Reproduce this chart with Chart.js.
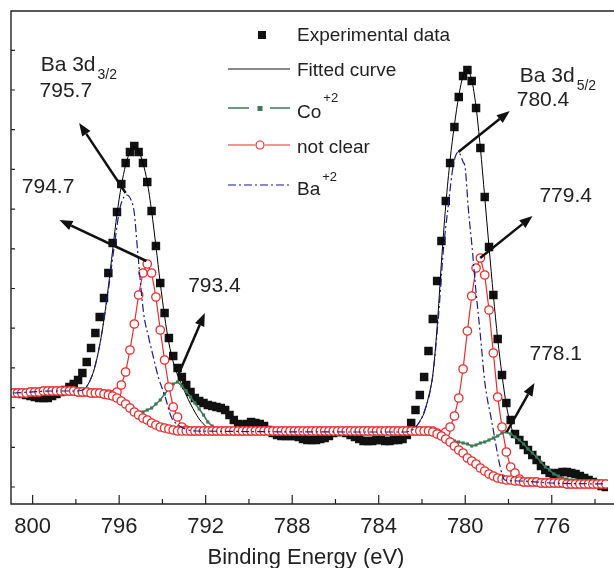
<!DOCTYPE html>
<html lang="en">
<head>
<meta charset="UTF-8">
<title>Ba 3d XPS spectrum</title>
<script src="https://cdn.jsdelivr.net/npm/chart.js"></script>
<style>
  body { margin: 0; background: #fff; }
  #wrap { width: 614px; height: 568px; }
</style>
</head>
<body>
<div id="wrap"><canvas id="xps" width="614" height="568"></canvas></div>
<script>
// binding energy grid of the scan (eV), 0.2 eV step
const energy = [
  800.9, 800.7, 800.5, 800.3, 800.1, 799.9, 799.7, 799.5, 799.3, 799.1,
  798.9, 798.7, 798.5, 798.3, 798.1, 797.9, 797.7, 797.5, 797.3, 797.1,
  796.9, 796.7, 796.5, 796.3, 796.1, 795.9, 795.7, 795.5, 795.3, 795.1,
  794.9, 794.7, 794.5, 794.3, 794.1, 793.9, 793.7, 793.5, 793.3, 793.1,
  792.9, 792.7, 792.5, 792.3, 792.1, 791.9, 791.7, 791.5, 791.3, 791.1,
  790.9, 790.7, 790.5, 790.3, 790.1, 789.9, 789.7, 789.5, 789.3, 789.1,
  788.9, 788.7, 788.5, 788.3, 788.1, 787.9, 787.7, 787.5, 787.3, 787.1,
  786.9, 786.7, 786.5, 786.3, 786.1, 785.9, 785.7, 785.5, 785.3, 785.1,
  784.9, 784.7, 784.5, 784.3, 784.1, 783.9, 783.7, 783.5, 783.3, 783.1,
  782.9, 782.7, 782.5, 782.3, 782.1, 781.9, 781.7, 781.5, 781.3, 781.1,
  780.9, 780.7, 780.5, 780.3, 780.1, 779.9, 779.7, 779.5, 779.3, 779.1,
  778.9, 778.7, 778.5, 778.3, 778.1, 777.9, 777.7, 777.5, 777.3, 777.1,
  776.9, 776.7, 776.5, 776.3, 776.1, 775.9, 775.7, 775.5, 775.3, 775.1,
  774.9, 774.7, 774.5, 774.3, 774.1, 773.9, 773.7, 773.5
];

// intensities (a.u.)
const experimental = [
  94, 94, 93, 92, 91, 90, 89, 89, 89, 91,
  93, 95, 97, 100, 103, 107, 114, 125, 139, 154,
  170, 189, 214, 244, 275, 303, 324, 335, 341, 335,
  324, 305, 276, 241, 204, 174, 149, 131, 119, 110,
  102, 95, 89, 86, 84, 82, 81, 80, 79, 77,
  72, 67, 63, 62, 63, 65, 64, 63, 61, 57,
  54, 52, 51, 51, 51, 51, 50, 48, 47, 47,
  47, 48, 49, 51, 54, 55, 55, 54, 52, 50,
  48, 46, 46, 46, 47, 47, 46, 46, 47, 47,
  48, 52, 64, 77, 92, 110, 136, 168, 206, 246,
  286, 324, 360, 390, 411, 417, 406, 379, 339, 290,
  240, 192, 148, 112, 84, 67, 53, 47, 42, 37,
  32, 27, 21, 17, 14, 13, 14, 15, 15, 14,
  13, 11, 9, 7, 5, 3, 1, 0
];

const background = [
  94, 94, 94, 94, 95, 95, 95, 96, 96, 96,
  96, 96, 96, 96, 96, 95, 95, 95, 94, 94,
  94, 93, 92, 91, 89, 86, 83, 79, 75, 72,
  69, 67, 64, 62, 60, 59, 58, 57, 56, 56,
  56, 56, 56, 56, 56, 56, 56, 56, 56, 56,
  56, 56, 56, 56, 56, 56, 56, 56, 56, 56,
  56, 56, 56, 56, 56, 56, 56, 56, 56, 56,
  56, 56, 56, 56, 56, 56, 56, 56, 56, 56,
  56, 56, 56, 56, 56, 56, 56, 56, 56, 56,
  56, 56, 56, 56, 56, 56, 56, 55, 53, 51,
  48, 45, 41, 37, 34, 29, 26, 23, 19, 16,
  13, 11, 9, 8, 7, 7, 6, 6, 5, 5,
  5, 5, 4, 4, 4, 4, 4, 4, 3, 3,
  3, 3, 3, 3, 3, 3, 3, 3
];

const notClear = [
  94, 94, 94, 94, 95, 95, 95, 96, 96, 96,
  96, 96, 96, 96, 96, 95, 95, 95, 94, 94,
  94, 93, 93, 92, 95, 102, 115, 137, 163, 192,
  214, 223, 214, 190, 157, 127, 100, 80, 70, 60,
  57, 56, 56, 56, 56, 56, 56, 56, 56, 56,
  56, 56, 56, 56, 56, 56, 56, 56, 56, 56,
  56, 56, 56, 56, 56, 56, 56, 56, 56, 56,
  56, 56, 56, 56, 56, 56, 56, 56, 56, 56,
  56, 56, 56, 56, 56, 56, 56, 56, 56, 56,
  56, 56, 56, 56, 56, 56, 56, 56, 54, 52,
  55, 60, 71, 89, 118, 156, 191, 219, 229, 212,
  177, 134, 90, 60, 35, 20, 14, 8, 5, 5,
  5, 5, 4, 4, 4, 4, 4, 4, 3, 3,
  3, 3, 3, 3, 3, 3, 3, 3
];

// Co+2 component (two segments, null breaks the line)
const coEnergy = [
  796.5, 796.3, 796.1, 795.9, 795.7, 795.5, 795.3, 795.1, 794.9, 794.7,
  794.5, 794.3, 794.1, 793.9, 793.7, 793.5, 793.3, 793.1, 792.9, 792.7,
  792.5, 792.3, 792.1, 791.9, 791.7, 791.5, 791.3,
  786.0,
  781.3, 781.1, 780.9, 780.7, 780.5, 780.3, 780.1, 779.9, 779.7, 779.5,
  779.3, 779.1, 778.9, 778.7, 778.5, 778.3, 778.1, 777.9, 777.7, 777.5,
  777.3, 777.1, 776.9, 776.7, 776.5, 776.3, 776.1, 775.9, 775.7, 775.5,
  775.3, 775.1, 774.9, 774.7, 774.5
];
const coValues = [
  92, 91, 89, 86, 83, 80, 77, 75, 75, 77,
  79, 83, 87, 93, 98, 103, 105, 101, 96, 90,
  84, 78, 72, 65, 61, 58, 56,
  null,
  55, 53, 51, 48, 46, 45, 44, 43, 41, 42,
  44, 45, 47, 49, 51, 54, 55, 53, 50, 47,
  43, 38, 34, 30, 25, 20, 17, 13, 11, 9,
  8, 7, 7, 6, 5
];

// Ba+2 component
const baEnergy = [
  800.9, 799.0, 798.0, 797.7, 797.4, 797.1, 796.8, 796.5, 796.25, 796.0,
  795.85, 795.65, 795.45, 795.3, 795.15, 794.87, 794.64, 794.42, 794.19, 793.87,
  793.59, 793.27, 792.8, 792.4, 782.75, 782.29, 781.92, 781.51, 781.24, 781.01,
  780.78, 780.55, 780.32, 780.1, 780.0, 779.86, 779.68, 779.54, 779.31, 779.09,
  778.76, 778.54, 778.35, 778.17, 777.5, 776.0, 773.5
];
const baValues = [
  94, 96, 96, 97, 104, 122, 154, 197, 237, 275,
  287, 292, 287, 274, 237, 174, 150, 130, 110, 90,
  70, 62, 57, 56, 55, 60, 74, 110, 170, 237,
  282, 322, 335, 325, 319, 279, 239, 204, 154, 104,
  64, 37, 17, 7, 6, 4, 3
];

// fitted envelope
const fitEnergy = [
  800.9, 799.0, 798.0, 797.7, 797.4, 797.1, 796.8,
  796.5, 796.3, 796.1, 795.9, 795.7, 795.5, 795.3, 795.1, 794.9, 794.7,
  794.5, 794.3, 794.1, 793.9, 793.7, 793.5, 793.3, 793.1, 792.9, 792.7,
  792.5, 792.3, 792.1, 791.9, 791.5, 782.7, 782.3,
  782.1, 781.9, 781.7, 781.5, 781.3, 781.1, 780.9, 780.7, 780.5, 780.3,
  780.1, 779.9, 779.7, 779.5, 779.3, 779.1, 778.9, 778.7, 778.5, 778.3,
  778.1, 777.9, 777.7, 777.5, 777.3, 777.1, 776.9, 776.7, 776.5, 776.3,
  776.1, 775.9, 775.5, 775.1, 774.5, 773.5
];
const fitValues = [
  94, 96, 96, 97, 104, 122, 154,
  200, 237, 273, 301, 322, 335, 340, 336, 324, 305,
  276, 241, 204, 171, 144, 125, 112, 102, 92, 83,
  75, 68, 63, 59, 56, 55, 60,
  66, 74, 90, 112, 160, 225, 282, 327, 362, 391,
  411, 417, 407, 380, 339, 290, 240, 192, 148, 112,
  82, 62, 50, 45, 41, 37, 32, 27, 22, 18,
  14, 12, 9, 7, 5, 3
];

const xMajor = [800, 796, 792, 788, 784, 780, 776];
const xMinor = [798, 794, 790, 786, 782, 778, 774];
const Y_STEP = 39.7;

// peak assignments: arrow from peak to label, label anchors in data units
const arrows = [
  { from: [795.70, 294], to: [797.85, 364] },
  { from: [794.74, 226], to: [798.76, 267] },
  { from: [793.27, 112], to: [792.04, 174] },
  { from: [780.32, 335], to: [777.94, 376] },
  { from: [779.31, 229], to: [776.89, 271] },
  { from: [778.08, 55], to: [776.80, 104] }
];
const notes = [
  { text: 'Ba 3d', sub: '3/2', at: [799.63, 416] },
  { text: '795.7', at: [799.68, 390] },
  { text: '794.7', at: [800.50, 294] },
  { text: '793.4', at: [792.81, 195] },
  { text: 'Ba 3d', sub: '5/2', at: [777.48, 405] },
  { text: '780.4', at: [777.62, 381] },
  { text: '779.4', at: [776.57, 285] },
  { text: '778.1', at: [777.03, 127] }
];

const FONT = '"Liberation Sans", Arial, sans-serif';
const RED = '#ee2a2a', GREEN = '#3b7a55', NAVY = '#1c1c8c';

function pts(xs, ys) {
  return xs.map((x, i) => ({ x: x, y: ys[i] }));
}

function drawArrow(ctx, x1, y1, x2, y2) {
  const ang = Math.atan2(y2 - y1, x2 - x1), head = 13, half = 5;
  const bx = x2 - head * Math.cos(ang), by = y2 - head * Math.sin(ang);
  ctx.beginPath(); ctx.moveTo(x1, y1); ctx.lineTo(bx, by); ctx.stroke();
  ctx.beginPath();
  ctx.moveTo(x2, y2);
  ctx.lineTo(bx + half * Math.sin(ang), by - half * Math.cos(ang));
  ctx.lineTo(bx - half * Math.sin(ang), by + half * Math.cos(ang));
  ctx.closePath(); ctx.fill();
}

function textWithScript(ctx, main, script, x, y, size, dy) {
  ctx.font = size + 'px ' + FONT;
  ctx.fillText(main, x, y);
  const w = ctx.measureText(main).width;
  ctx.font = Math.round(size * 0.68) + 'px ' + FONT;
  ctx.fillText(script, x + w + 2, y + dy);
}

const decor = {
  id: 'decor',
  afterDraw(chart) {
    const { ctx, chartArea: a, scales: { x, y } } = chart;
    ctx.save();
    // open frame: the plot runs off the right edge
    ctx.strokeStyle = '#222';
    ctx.lineWidth = 1.4;
    ctx.beginPath();
    ctx.moveTo(chart.width, a.top); ctx.lineTo(a.left, a.top);
    ctx.lineTo(a.left, a.bottom); ctx.lineTo(chart.width, a.bottom);
    ctx.stroke();

    // ticks, pointing inwards
    ctx.lineWidth = 1.2;
    ctx.beginPath();
    xMajor.forEach(v => { const p = x.getPixelForValue(v); ctx.moveTo(p, a.bottom); ctx.lineTo(p, a.bottom - 9); });
    xMinor.forEach(v => { const p = x.getPixelForValue(v); ctx.moveTo(p, a.bottom); ctx.lineTo(p, a.bottom - 5); });
    for (let k = 0; k * Y_STEP <= y.max; k++) {
      const p = y.getPixelForValue(k * Y_STEP);
      ctx.moveTo(a.left, p); ctx.lineTo(a.left + 4, p);
    }
    ctx.stroke();

    ctx.fillStyle = '#222';
    ctx.font = '22px ' + FONT;
    ctx.textAlign = 'center';
    xMajor.forEach(v => ctx.fillText(String(v), x.getPixelForValue(v), a.bottom + 29));
    ctx.fillText('Binding Energy (eV)', 306, a.bottom + 60);

    // arrows and peak labels
    ctx.textAlign = 'left';
    ctx.strokeStyle = '#111'; ctx.fillStyle = '#111'; ctx.lineWidth = 2.5;
    arrows.forEach(r => drawArrow(ctx,
      x.getPixelForValue(r.from[0]), y.getPixelForValue(r.from[1]),
      x.getPixelForValue(r.to[0]), y.getPixelForValue(r.to[1])));
    ctx.fillStyle = '#222';
    notes.forEach(n => {
      const px = x.getPixelForValue(n.at[0]), py = y.getPixelForValue(n.at[1]);
      if (n.sub) textWithScript(ctx, n.text, n.sub, px, py, 21, 8);
      else { ctx.font = '21px ' + FONT; ctx.fillText(n.text, px, py); }
    });

    // legend
    const lx0 = 228, lx1 = 290, tx = 297;
    ctx.fillStyle = '#111';
    ctx.fillRect(258, 31, 8, 8);
    ctx.strokeStyle = '#111'; ctx.lineWidth = 1;
    ctx.beginPath(); ctx.moveTo(lx0, 69); ctx.lineTo(lx1, 69); ctx.stroke();

    ctx.strokeStyle = GREEN; ctx.lineWidth = 1.5;
    ctx.beginPath(); ctx.moveTo(lx0, 108); ctx.lineTo(249, 108); ctx.moveTo(270, 108); ctx.lineTo(lx1, 108); ctx.stroke();
    ctx.fillStyle = GREEN; ctx.fillRect(257.5, 106, 5, 5);

    ctx.strokeStyle = RED; ctx.lineWidth = 1.2;
    ctx.beginPath(); ctx.moveTo(lx0, 145); ctx.lineTo(255, 145); ctx.moveTo(265, 145); ctx.lineTo(lx1, 145); ctx.stroke();
    ctx.beginPath(); ctx.arc(260, 145, 4, 0, Math.PI * 2); ctx.fillStyle = '#fff'; ctx.fill(); ctx.stroke();

    ctx.strokeStyle = NAVY; ctx.lineWidth = 1.2; ctx.setLineDash([8, 3, 2, 3]);
    ctx.beginPath(); ctx.moveTo(lx0, 185); ctx.lineTo(lx1, 185); ctx.stroke();
    ctx.setLineDash([]);

    ctx.fillStyle = '#222';
    ctx.font = '19px ' + FONT;
    ctx.fillText('Experimental data', tx, 41);
    ctx.fillText('Fitted curve', tx, 76);
    textWithScript(ctx, 'Co', '+2', tx, 118, 19, -16);
    ctx.font = '19px ' + FONT;
    ctx.fillText('not clear', tx, 153);
    textWithScript(ctx, 'Ba', '+2', tx, 195, 19, -14);
    ctx.restore();
  }
};

new Chart(document.getElementById('xps'), {
  type: 'line',
  data: {
    datasets: [
      { label: 'Ba+2', data: pts(baEnergy, baValues), borderColor: NAVY, borderWidth: 1.2,
        borderDash: [8, 3, 2, 3], pointRadius: 0, cubicInterpolationMode: 'monotone', order: 0 },
      { label: 'background', data: pts(energy, background), borderColor: RED, borderWidth: 1,
        pointRadius: 4.2, pointBorderWidth: 1.3, pointBorderColor: RED, pointBackgroundColor: '#fff', order: 1 },
      { label: 'not clear', data: pts(energy, notClear), borderColor: RED, borderWidth: 1.2,
        pointRadius: 4.2, pointBorderWidth: 1.3, pointBorderColor: RED, pointBackgroundColor: '#fff', order: 2 },
      { label: 'Co+2', data: pts(coEnergy, coValues), borderColor: GREEN, borderWidth: 1.5,
        pointStyle: 'rect', pointRadius: 2.2, pointBorderWidth: 0, pointBackgroundColor: GREEN, order: 3 },
      { label: 'Fitted curve', data: pts(fitEnergy, fitValues), borderColor: '#000', borderWidth: 1,
        pointRadius: 0, cubicInterpolationMode: 'monotone', order: 4 },
      { label: 'Experimental data', data: pts(energy, experimental), showLine: false,
        pointStyle: 'rect', pointRadius: 6, pointBorderWidth: 0, pointBackgroundColor: '#111', order: 5 }
    ]
  },
  options: {
    responsive: false,
    devicePixelRatio: 1,
    animation: false,
    events: [],
    layout: { padding: { top: 11, right: 1, left: 0, bottom: 0 } },
    plugins: { legend: { display: false }, tooltip: { enabled: false } },
    scales: {
      x: {
        type: 'linear', reverse: true, min: 773.4, max: 801,
        grid: { display: false }, border: { display: false }, ticks: { display: false },
        afterFit(s) { s.height = 64; }
      },
      y: {
        min: -17, max: 476,
        grid: { display: false }, border: { display: false }, ticks: { display: false },
        afterFit(s) { s.width = 11; }
      }
    }
  },
  plugins: [decor]
});
</script>
</body>
</html>
